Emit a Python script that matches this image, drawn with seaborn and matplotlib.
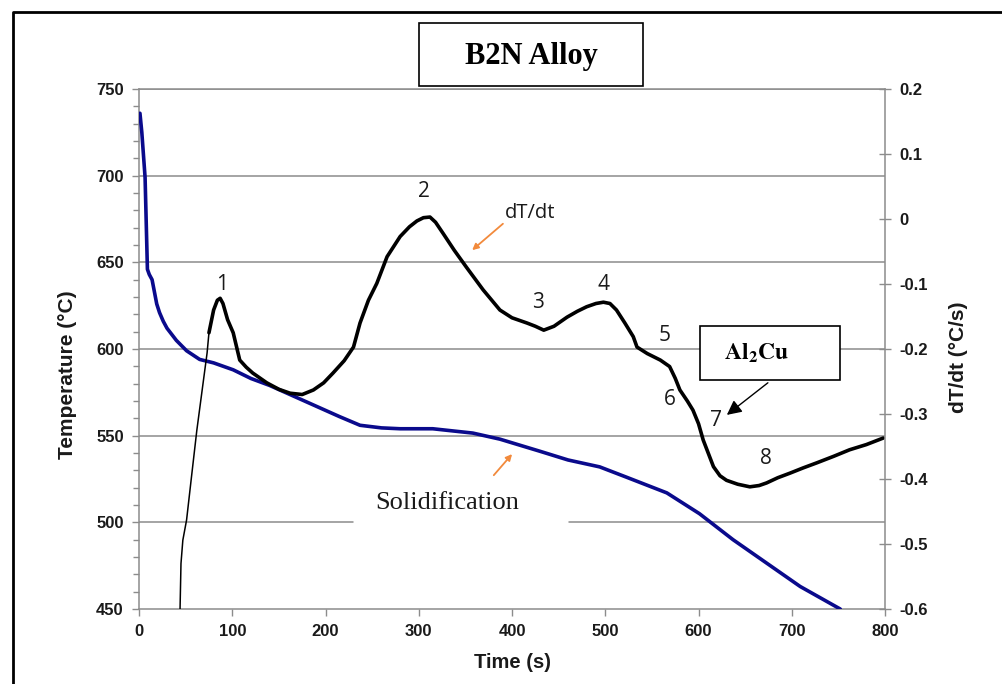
import matplotlib
matplotlib.use("Agg")
import matplotlib.pyplot as plt
from matplotlib.ticker import MultipleLocator
from matplotlib.lines import Line2D
from matplotlib.patches import Rectangle
import seaborn as sns
import numpy as np

sns.set_theme(style="white")
plt.rcParams["font.family"] = ["Liberation Sans", "DejaVu Sans"]
plt.rcParams["mathtext.fontset"] = "stix"

## DATA
# cooling curve, temperature in degC
temp_t = [1, 3, 6.5, 9, 11, 14, 19, 22, 26, 30, 40, 51, 65, 80, 101, 120, 140,
          165, 190, 215, 237, 260, 280, 315, 358, 387, 430, 460, 494, 523, 566,
          601, 637, 673, 709, 752]
temp_T = [736, 725, 699, 646, 643, 640, 626, 621, 616, 612, 605, 599, 594, 592,
          588, 583, 579, 573, 567, 561, 556, 554.5, 554, 554, 551.5, 548, 541,
          536, 532, 526, 517, 505, 490, 476.5, 463, 450]

# dT/dt, first steep rise (thin trace)
rise_t = [44, 45, 47, 51, 56, 62, 68, 73, 75]
rise_d = [-0.6, -0.53, -0.494, -0.463, -0.40, -0.325, -0.26, -0.206, -0.175]

# dT/dt, rest of the trace
rate_t = [75, 80, 84, 87, 90, 95, 101, 108, 115, 122, 137, 150, 162, 175, 187,
          198, 208, 220, 230, 237, 246, 255, 266, 280, 290, 298, 305, 312, 318,
          326, 338, 351, 369, 387, 400, 416, 425, 434, 445, 459, 470, 480, 490,
          498, 505, 512, 521, 530, 534, 545, 559, 569, 575, 580, 588, 594, 600,
          605, 616, 623, 630, 642, 655, 665, 673, 685, 698, 712, 727, 745, 762,
          780, 798]
rate_d = [-0.175, -0.14, -0.125, -0.122, -0.13, -0.155, -0.175, -0.217, -0.228,
          -0.237, -0.252, -0.262, -0.268, -0.27, -0.263, -0.252, -0.237, -0.218,
          -0.197, -0.16, -0.125, -0.099, -0.058, -0.027, -0.012, -0.003, 0.002,
          0.003, -0.005, -0.022, -0.048, -0.074, -0.109, -0.14, -0.152, -0.16,
          -0.165, -0.171, -0.165, -0.151, -0.142, -0.135, -0.13, -0.128, -0.13,
          -0.14, -0.16, -0.181, -0.197, -0.207, -0.217, -0.227, -0.245, -0.263,
          -0.28, -0.294, -0.315, -0.34, -0.381, -0.395, -0.402, -0.408, -0.412,
          -0.41, -0.406, -0.398, -0.391, -0.383, -0.375, -0.365, -0.355, -0.347,
          -0.337]

peak_labels = ["1", "2", "3", "4", "5", "6", "7", "8"]
peak_t = [89, 305.6, 428, 497.6, 564, 569, 619, 672]
peak_T = [637.5, 690.6, 627, 637.5, 608, 570.6, 559, 537]

temp_ticks = [450, 500, 550, 600, 650, 700, 750]
rate_ticks = [-0.6, -0.5, -0.4, -0.3, -0.2, -0.1, 0, 0.1, 0.2]
time_ticks = [0, 100, 200, 300, 400, 500, 600, 700, 800]

## PLOT
fig = plt.figure(figsize=(10.03, 6.84), dpi=100)
fig.patch.set_facecolor("white")
ax = fig.add_axes([0.1386, 0.1096, 0.7438, 0.7603])
ax2 = ax.twinx()

grid_c = "#8c8c8c"
for y in temp_ticks[2:]:
    ax.plot([0, 800], [y, y], color=grid_c, lw=1.1, zorder=0)
ax.plot([0, 229.5], [500, 500], color=grid_c, lw=1.1, zorder=0)
ax.plot([461, 800], [500, 500], color=grid_c, lw=1.1, zorder=0)

sns.lineplot(x=temp_t, y=temp_T, ax=ax, color="#0a0a8c", lw=2.6,
             sort=False, estimator=None, zorder=3)
sns.lineplot(x=rise_t, y=rise_d, ax=ax2, color="black", lw=1.1,
             sort=False, estimator=None)
sns.lineplot(x=rate_t, y=rate_d, ax=ax2, color="black", lw=2.6,
             sort=False, estimator=None)

ax.set_xlim(0, 800)
ax.set_ylim(450, 750)
ax2.set_ylim(-0.6, 0.2)
ax.set_xticks(time_ticks)
ax.set_yticks(temp_ticks)
ax.yaxis.set_minor_locator(MultipleLocator(10))
ax2.set_yticks(rate_ticks)
ax2.set_yticklabels([f"{v:g}" for v in rate_ticks])

for a in (ax, ax2):
    for s in a.spines.values():
        s.set_color(grid_c)
        s.set_linewidth(1.1)
ax.spines["right"].set_visible(False)
ax2.spines["left"].set_visible(False)
ax2.spines["bottom"].set_visible(False)
ax2.spines["top"].set_visible(False)

ax.tick_params(axis="y", which="major", direction="out", length=5, width=1,
               color=grid_c, labelsize=12, pad=6)
ax.tick_params(axis="y", which="minor", direction="out", length=4, width=1,
               color=grid_c, left=True)
ax.tick_params(axis="x", direction="out", length=5, width=1, color=grid_c,
               labelsize=12, pad=6, bottom=True)
ax2.tick_params(axis="y", direction="inout", length=9, width=1, color=grid_c,
                labelsize=12, pad=6, right=True)
for lbl in ax.get_xticklabels() + ax.get_yticklabels() + ax2.get_yticklabels():
    lbl.set_fontweight("bold")
    lbl.set_color("#1a1a1a")

ax.set_xlabel("Time (s)", fontsize=14.5, fontweight="bold", color="#1a1a1a")
ax.set_ylabel("Temperature (°C)", fontsize=15, fontweight="bold", color="#1a1a1a")
ax2.set_ylabel("dT/dt (°C/s)", fontsize=15, fontweight="bold", color="#1a1a1a")
ax.xaxis.set_label_coords(0.501, -0.085)
ax.yaxis.set_label_coords(-0.083, 0.45)
ax2.yaxis.set_label_coords(1.086, 0.485)

for lab, tx, ty in zip(peak_labels, peak_t, peak_T):
    ax.text(tx, ty, lab, fontsize=15, family="Open Sans", ha="center", va="center",
            color="#1a1a1a", zorder=5)

ax.text(392.5, 678.5, "dT/dt", fontsize=14.5, family="Open Sans", ha="left",
        va="center", color="#1a1a1a")
ax.annotate("", xy=(355, 656), xytext=(392.5, 673.3),
            arrowprops=dict(arrowstyle="-|>", color="#f28a3c", lw=1.3,
                            mutation_scale=9))
ax.text(331, 511, "Solidification", fontsize=19, family="Liberation Serif",
        ha="center", va="center", color="#1a1a1a")
ax.annotate("", xy=(402, 540.6), xytext=(378.5, 526),
            arrowprops=dict(arrowstyle="-|>", color="#f28a3c", lw=1.3,
                            mutation_scale=9))
ax.annotate("", xy=(628, 561), xytext=(676.7, 581.5),
            arrowprops=dict(arrowstyle="-|>", color="black", lw=1.0,
                            mutation_scale=22))

# boxed labels in figure coordinates
fig.patches.append(Rectangle((0.4177, 0.8743), 0.2233, 0.0921, transform=fig.transFigure,
                             fill=True, facecolor="white", edgecolor="black", lw=1.2))
fig.text(0.5294, 0.9167, "B2N Alloy", fontsize=22, fontweight="bold",
         family="Liberation Serif", ha="center", va="center", color="black")
fig.patches.append(Rectangle((0.698, 0.4444), 0.1396, 0.0790, transform=fig.transFigure,
                             fill=True, facecolor="white", edgecolor="black", lw=1.2,
                             zorder=10))
fig.text(0.7547, 0.4839, r"$\mathbf{Al}_{\mathbf{2}}\mathbf{Cu}$", fontsize=17,
         ha="center", va="center", color="black", zorder=11)

# outer frame (only top and left edges show)
fig.lines.append(Line2D([0.013, 0.013, 1.0], [0.0, 0.9825, 0.9825],
                        transform=fig.transFigure, color="black", lw=2))

fig.savefig("out.png", dpi=100, facecolor="white")
